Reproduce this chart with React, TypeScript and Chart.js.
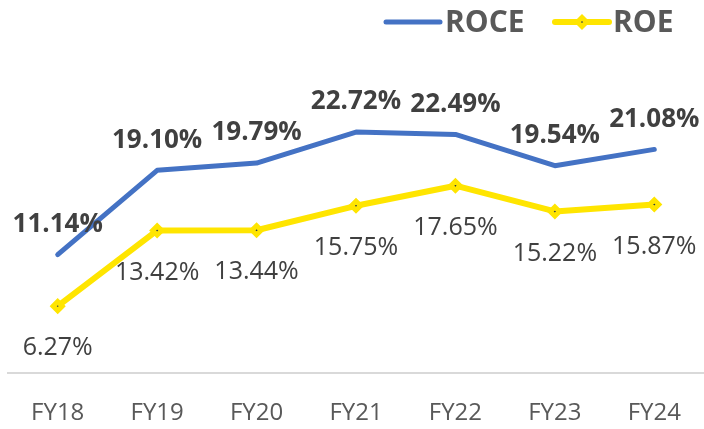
import React, { useEffect, useRef } from "react";
import { Chart, registerables } from "chart.js";

Chart.register(...registerables);

const categories = ["FY18", "FY19", "FY20", "FY21", "FY22", "FY23", "FY24"];
const roce = [11.14, 19.1, 19.79, 22.72, 22.49, 19.54, 21.08];
const roe = [6.27, 13.42, 13.44, 15.75, 17.65, 15.22, 15.87];

const BLUE = "#4472C4";
const YELLOW = "#FFE500";
const DARK = "#1F3350";
const FONT = "'Open Sans', 'DejaVu Sans', sans-serif";

const labelsPlugin = {
  id: "valueLabels",
  afterDatasetsDraw(chart: any) {
    const ctx = chart.ctx;
    ctx.save();
    ctx.textAlign = "center";
    ctx.textBaseline = "middle";
    chart.data.datasets.forEach((ds: any, di: number) => {
      const meta = chart.getDatasetMeta(di);
      meta.data.forEach((pt: any, i: number) => {
        const v = ds.data[i] as number;
        const txt = v.toFixed(2) + "%";
        if (di === 0) {
          ctx.font = `bold 26px ${FONT}`;
          ctx.fillStyle = "#404040";
          ctx.fillText(txt, pt.x, pt.y - 30);
        } else {
          ctx.font = `25px ${FONT}`;
          ctx.fillStyle = "#404040";
          ctx.fillText(txt, pt.x, pt.y + 42);
        }
      });
    });
    ctx.restore();
  },
  afterDraw(chart: any) {
    const ctx = chart.ctx;
    ctx.save();
    const y = 22;
    ctx.lineCap = "round";
    ctx.lineWidth = 5;
    ctx.strokeStyle = BLUE;
    ctx.beginPath();
    ctx.moveTo(386, y);
    ctx.lineTo(440, y);
    ctx.stroke();
    ctx.strokeStyle = YELLOW;
    ctx.lineWidth = 6;
    ctx.beginPath();
    ctx.moveTo(555, y);
    ctx.lineTo(609, y);
    ctx.stroke();
    ctx.beginPath();
    const r = 4.5;
    const cx = 582;
    ctx.moveTo(cx, y - r);
    ctx.lineTo(cx + r, y);
    ctx.lineTo(cx, y + r);
    ctx.lineTo(cx - r, y);
    ctx.closePath();
    ctx.fillStyle = DARK;
    ctx.fill();
    ctx.lineWidth = 5;
    ctx.lineJoin = "miter";
    ctx.strokeStyle = YELLOW;
    ctx.stroke();
    ctx.font = `bold 30px ${FONT}`;
    ctx.fillStyle = "#595959";
    ctx.textAlign = "left";
    ctx.textBaseline = "middle";
    ctx.fillText("ROCE", 445, y + 1);
    ctx.fillText("ROE", 613, y + 1);
    ctx.restore();
  },
};

export default function App() {
  const ref = useRef<HTMLCanvasElement>(null);
  useEffect(() => {
    document.body.style.margin = "0";
    document.body.style.overflow = "hidden";
    const chart = new Chart(ref.current!, {
      type: "line",
      data: {
        labels: categories,
        datasets: [
          {
            label: "ROCE",
            data: roce,
            borderColor: BLUE,
            borderWidth: 5,
            pointRadius: 0,
            tension: 0,
            borderCapStyle: "round",
            borderJoinStyle: "round",
          },
          {
            label: "ROE",
            data: roe,
            borderColor: YELLOW,
            borderWidth: 6,
            pointStyle: "rectRot",
            pointRadius: 4.5,
            pointBorderWidth: 5,
            pointBorderColor: YELLOW,
            pointBackgroundColor: DARK,
            tension: 0,
            borderJoinStyle: "round",
          },
        ],
      },
      options: {
        animation: false,
        responsive: true,
        maintainAspectRatio: false,
        layout: { autoPadding: false, padding: { top: 55, left: 8, right: 0, bottom: 0 } },
        plugins: { legend: { display: false }, tooltip: { enabled: false } },
        scales: {
          x: {
            offset: true,
            grid: { display: false, drawTicks: false },
            border: { display: true, color: "#D9D9D9", width: 2 },
            ticks: {
              color: "#595959",
              font: { family: FONT, size: 24 },
              padding: 26,
              maxRotation: 0,
              autoSkip: false,
            },
            afterFit: (scale: any) => {
              scale.height = 56.5;
              scale.paddingLeft = 0;
              scale.paddingRight = 0;
            },
          },
          y: {
            display: false,
            min: 0,
            max: 30,
          },
        },
      },
      plugins: [labelsPlugin],
    });
    return () => chart.destroy();
  }, []);
  return (
    <div style={{ position: "fixed", left: 0, top: 0, width: 704, height: 429 }}>
      <canvas ref={ref} />
    </div>
  );
}
